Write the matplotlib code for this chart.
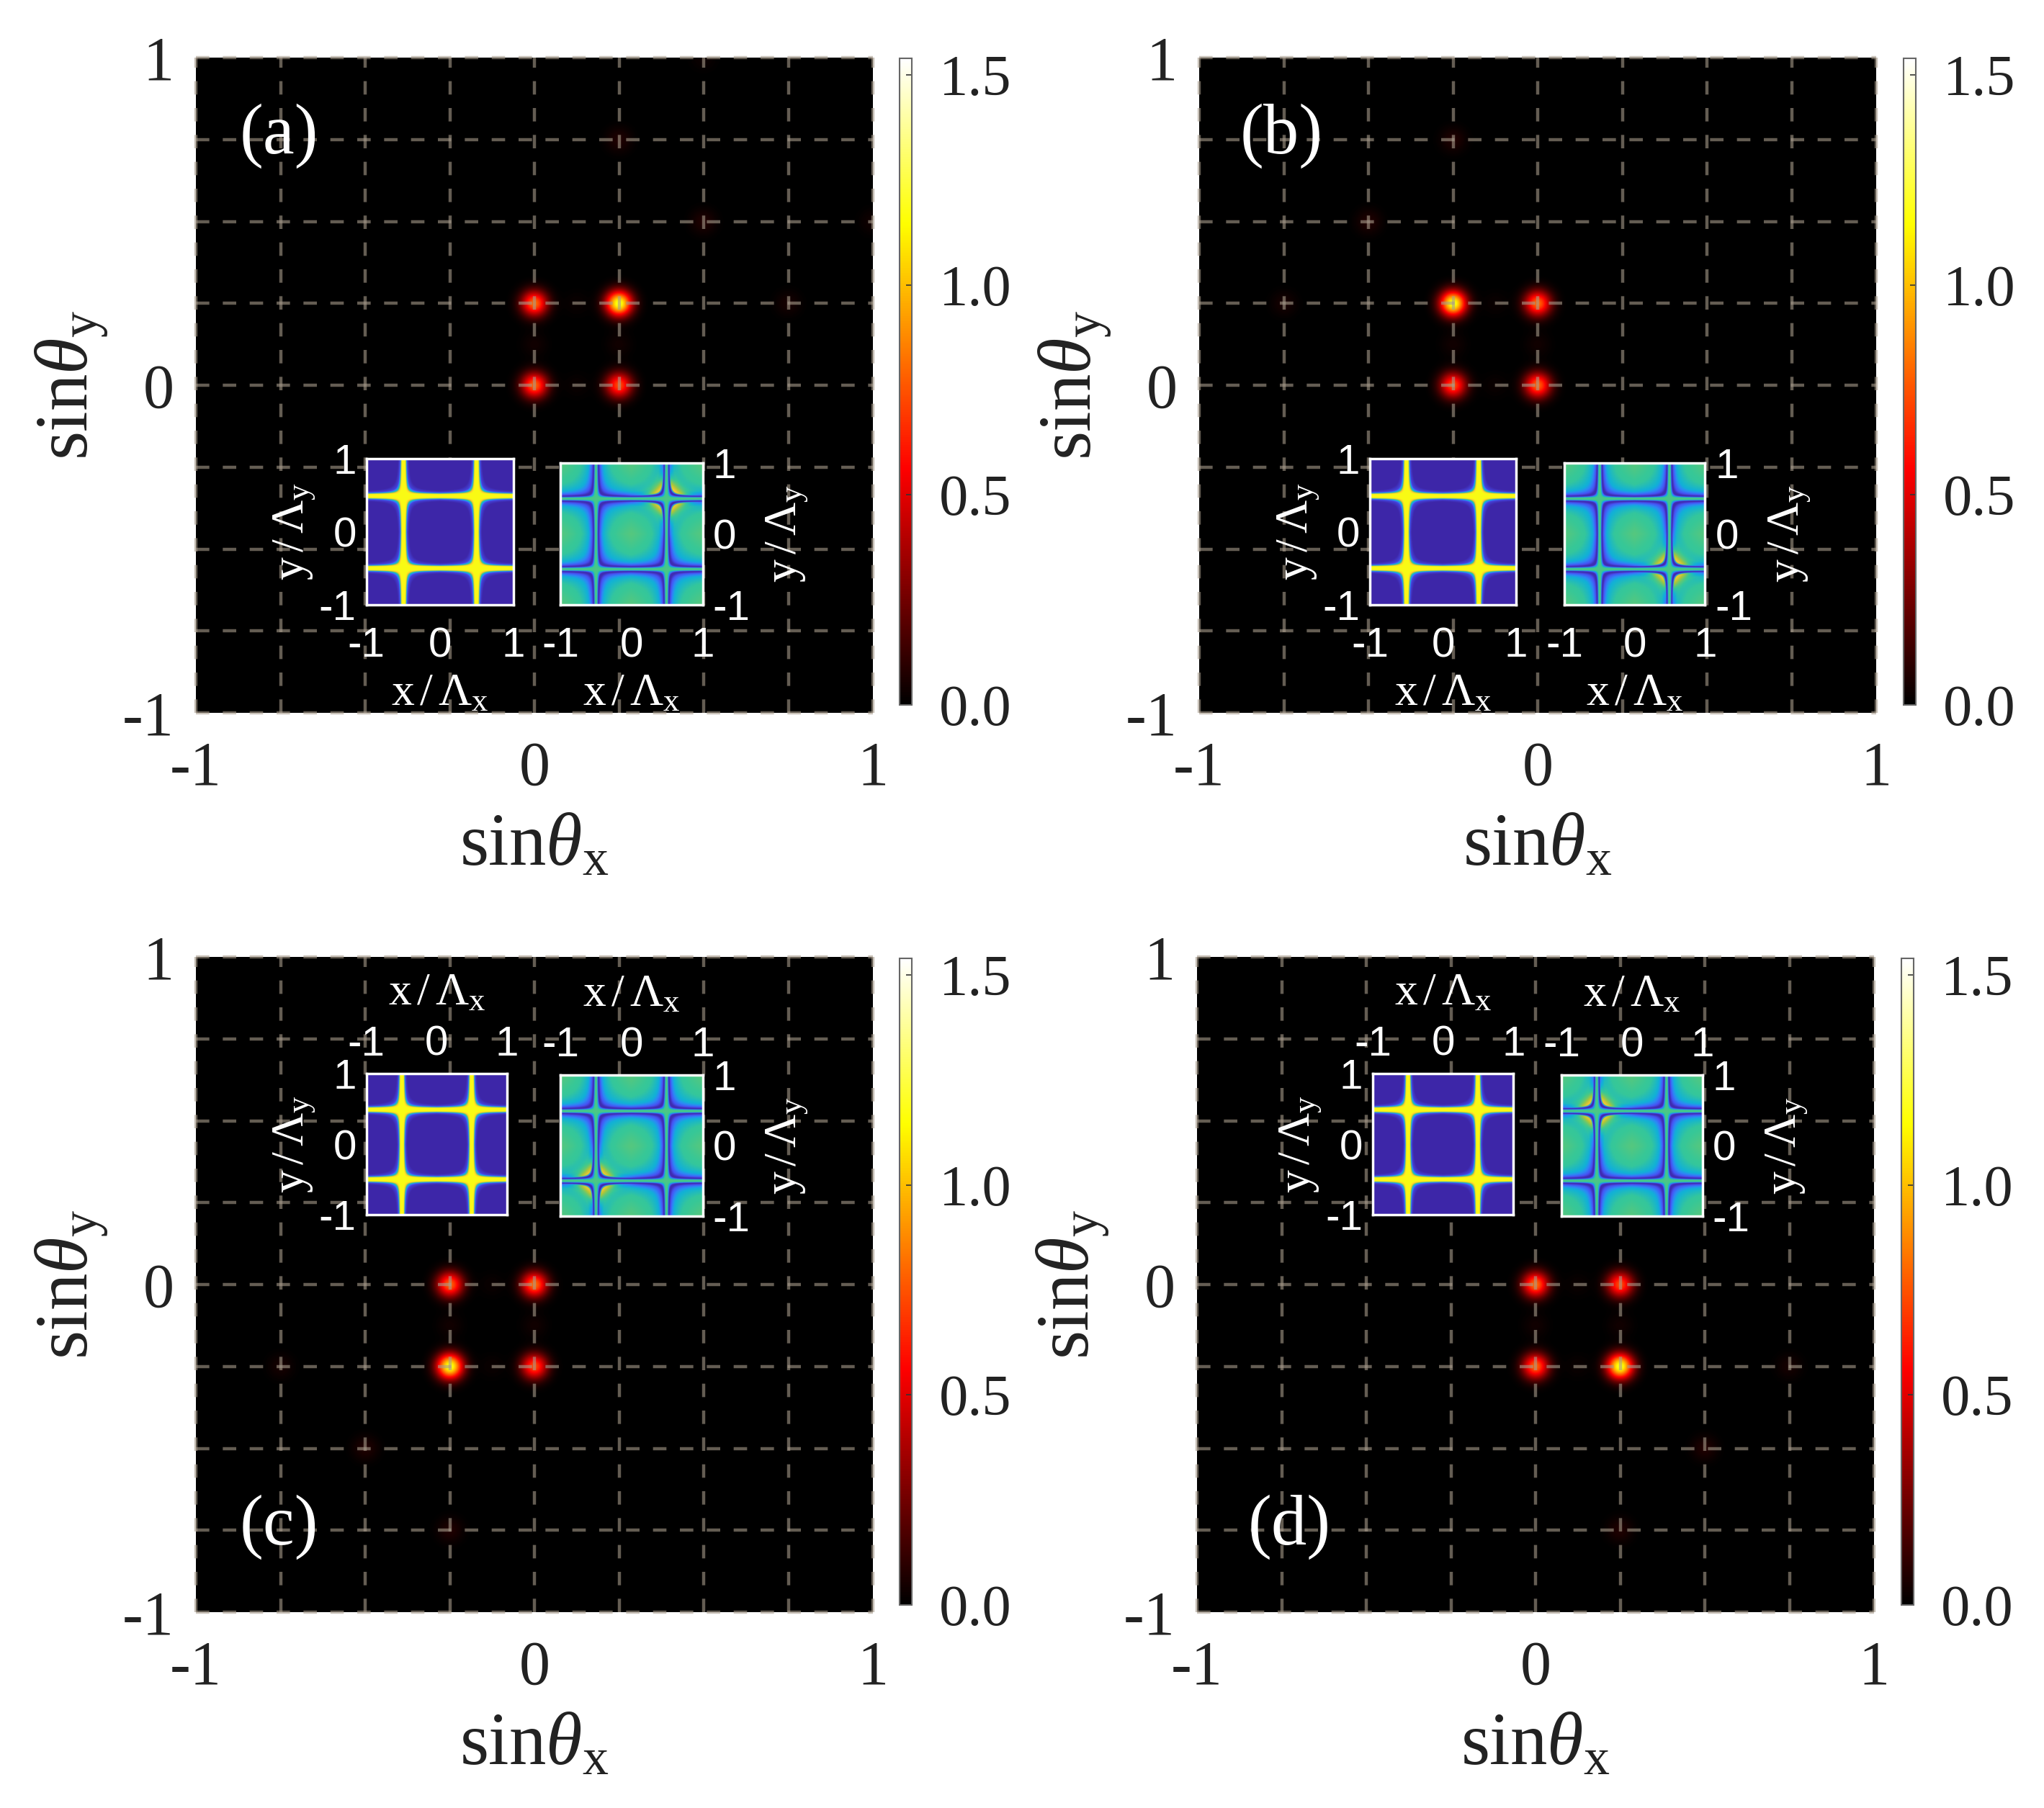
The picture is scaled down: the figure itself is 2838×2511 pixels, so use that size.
import numpy as np
import matplotlib
matplotlib.use('Agg')
import matplotlib.pyplot as plt
from matplotlib.colors import LinearSegmentedColormap

plt.rcParams['font.family'] = ['Liberation Serif', 'DejaVu Serif']
plt.rcParams['mathtext.fontset'] = 'custom'
plt.rcParams['mathtext.rm'] = 'Liberation Serif'
plt.rcParams['mathtext.it'] = 'Liberation Serif:italic'
plt.rcParams['mathtext.bf'] = 'Liberation Serif:bold'

W, H = 2838, 2511

# peak positions and heights
peaks_a_x = [0.25, 0.0, 0.0, 0.25, 0.25, 0.5, 0.75, 0.5, 1.0, 0.125, 0.125, 0.25, 0.0]
peaks_a_y = [0.25, 0.25, 0.0, 0.0, 0.75, 0.5, 0.25, 1.0, 0.5, 0.25, 0.0, 0.125, 0.125]
peaks_a_v = [1.2, 0.8, 0.78, 0.72, 0.07, 0.07, 0.05, 0.03, 0.04, 0.025, 0.025, 0.04, 0.04]
peaks_b_x = [-0.25, 0.0, 0.0, -0.25, -0.25, -0.5, -0.75, -0.125, -0.125, -0.25, 0.0]
peaks_b_y = [0.25, 0.25, 0.0, 0.0, 0.75, 0.5, 0.25, 0.25, 0.0, 0.125, 0.125]
peaks_b_v = [1.2, 0.8, 0.78, 0.72, 0.07, 0.07, 0.05, 0.025, 0.025, 0.04, 0.04]
peaks_c_x = [-0.25, 0.0, 0.0, -0.25, -0.25, -0.5, -0.75, -0.125, -0.125, -0.25, 0.0]
peaks_c_y = [-0.25, -0.25, 0.0, 0.0, -0.75, -0.5, -0.25, -0.25, 0.0, -0.125, -0.125]
peaks_c_v = [1.2, 0.72, 0.8, 0.78, 0.07, 0.07, 0.05, 0.025, 0.025, 0.04, 0.04]
peaks_d_x = [0.25, 0.0, 0.0, 0.25, 0.25, 0.5, 0.75, 0.125, 0.125, 0.25, 0.0]
peaks_d_y = [-0.25, -0.25, 0.0, 0.0, -0.75, -0.5, -0.25, -0.25, 0.0, -0.125, -0.125]
peaks_d_v = [1.2, 0.78, 0.8, 0.72, 0.07, 0.07, 0.05, 0.025, 0.025, 0.04, 0.04]

grid_lines = [-1, -0.75, -0.5, -0.25, 0, 0.25, 0.5, 0.75, 1]
main_ticks = [-1, 0, 1]
main_tick_labels = ['-1', '0', '1']
cbar_ticks = [0.0, 0.5, 1.0, 1.5]
cbar_tick_labels = ['0.0', '0.5', '1.0', '1.5']
cbar_max = 1.54

# inset line positions and the radial profiles of the two inset maps
inset_lines = [-0.5, 0.49]
amp_s = [0.0, 0.016, 0.021, 0.026, 0.033, 0.047, 0.25]
amp_v = [1.0, 1.0, 0.88, 0.5, 0.1, 0.0, 0.0]
phase_s = [0.0, 0.011, 0.017, 0.021, 0.027, 0.034, 0.058, 0.094, 0.157]
phase_v = [0.6, 0.58, 0.25, 0.02, 0.02, 0.12, 0.42, 0.56, 0.61]

hot_map = LinearSegmentedColormap.from_list('hot_black', [
    (0.0, (0, 0, 0)), (0.365, (1, 0, 0)), (0.746, (1, 1, 0)), (1.0, (1, 1, 1))])
parula = LinearSegmentedColormap.from_list('parula', [
    (0.2422, 0.1504, 0.6603), (0.2810, 0.3228, 0.9579), (0.1786, 0.5289, 0.9682),
    (0.0689, 0.6948, 0.8394), (0.2161, 0.7843, 0.5923), (0.6720, 0.7793, 0.2227),
    (0.9970, 0.7659, 0.2199), (0.9769, 0.9839, 0.0805)])


def rect(x0, y0, x1, y1):
    return [x0 / W, 1 - y1 / H, (x1 - x0) / W, (y1 - y0) / H]


def far_field(px, py, pv):
    g = np.linspace(-1, 1, 941)
    xx, yy = np.meshgrid(g, g)
    z = np.zeros_like(xx)
    for a, b, v in zip(px, py, pv):
        z += v * np.exp(-((xx - a)**2 + (yy - b)**2) / (2 * 0.027**2))
    return z


def soft_dist(n=600, p=0.6):
    g = np.linspace(-1, 1, n)
    xx, yy = np.meshgrid(g, g)
    dx = np.min([np.abs(xx - a) for a in inset_lines], axis=0) + 1e-4
    dy = np.min([np.abs(yy - a) for a in inset_lines], axis=0) + 1e-4
    return xx, yy, (dx**-p + dy**-p)**(-1 / p)


def inset_amp():
    _, _, s = soft_dist()
    return np.interp(s, amp_s, amp_v)


def inset_phase(sx, sy):
    xx, yy, s = soft_dist()
    z = np.interp(s, phase_s, phase_v)
    r2 = (xx - sx * 0.5)**2 + (yy - sy * 0.5)**2
    w = np.minimum(1, 1.2 * np.exp(-r2 / 0.11))
    w = w * np.clip((s - 0.027) / 0.006, 0, 1) * np.exp(-(np.clip(s - 0.03, 0, None) / 0.04)**2)
    return z + w * (0.86 - z)


def inset(box, data, side, xside):
    ax = fig.add_axes(rect(*[v * W / 1568 for v in box]))
    ax.imshow(data, origin='lower', extent=(-1, 1, -1, 1), cmap=parula, vmin=0, vmax=1,
              aspect='auto', interpolation='bilinear')
    ax.set_xticks(main_ticks, main_tick_labels, family='Liberation Sans')
    ax.set_yticks(main_ticks, main_tick_labels, family='Liberation Sans')
    ax.tick_params(length=0, labelsize=42, colors='white', pad=10)
    ax.xaxis.set_label_position(xside)
    ax.yaxis.set_label_position(side)
    if xside == 'top':
        ax.xaxis.tick_top()
        ax.set_xlabel(r'x$\,/\,\Lambda_{\mathrm{x}}$', fontsize=46, color='white', labelpad=20)
    else:
        ax.tick_params(axis='x', pad=22)
        ax.set_xlabel(r'x$\,/\,\Lambda_{\mathrm{x}}$', fontsize=46, color='white', labelpad=8)
    if side == 'right':
        ax.yaxis.tick_right()
        ax.set_ylabel(r'y$\,/\,\Lambda_{\mathrm{y}}$', fontsize=46, color='white', labelpad=14)
    else:
        ax.set_ylabel(r'y$\,/\,\Lambda_{\mathrm{y}}$', fontsize=46, color='white', labelpad=2)
    for sp in ax.spines.values():
        sp.set_color('white')
        sp.set_linewidth(2.5)


def panel(box, cbox, px, py, pv, tag, tag_x, tag_y):
    ax = fig.add_axes(rect(*box))
    im = ax.imshow(far_field(px, py, pv), origin='lower', extent=(-1, 1, -1, 1), cmap=hot_map,
                   vmin=0, vmax=cbar_max, aspect='auto', interpolation='bilinear')
    for g in grid_lines:
        ax.plot([-1, 1], [g, g], color='#a89c8c', alpha=0.6, lw=3.2, dashes=(4.2, 4.2), clip_on=False)
        ax.plot([g, g], [-1, 1], color='#a89c8c', alpha=0.6, lw=3.2, dashes=(4.2, 4.2), clip_on=False)
    ax.set_xlim(-1, 1)
    ax.set_ylim(-1, 1)
    ax.set_xticks(main_ticks, main_tick_labels)
    ax.set_yticks(main_ticks, main_tick_labels)
    ax.tick_params(length=0, labelsize=62, colors='#222222', pad=22)
    ax.tick_params(axis='x', pad=28)
    ax.set_xlabel(r'sin$\theta_{\mathrm{x}}$', fontsize=74, color='#222222', labelpad=15)
    ax.set_ylabel(r'sin$\theta_{\mathrm{y}}$', fontsize=74, color='#222222', labelpad=12)
    for sp in ax.spines.values():
        sp.set_visible(False)
    ax.text(tag_x, tag_y, tag, transform=ax.transAxes, color='white', fontsize=71, va='center')

    cax = fig.add_axes(rect(*cbox))
    cb = fig.colorbar(im, cax=cax)
    cb.set_ticks(cbar_ticks, labels=cbar_tick_labels)
    cax.tick_params(direction='in', length=6, width=1.2, labelsize=58, pad=27,
                    color='#333333', labelcolor='#222222')
    cb.outline.set_edgecolor('#666666')
    cb.outline.set_linewidth(1.5)


fig = plt.figure(figsize=(W / 100, H / 100), dpi=100)

panel((272, 80, 1212, 990), (1249, 81, 1266, 979), peaks_a_x, peaks_a_y, peaks_a_v, '(a)', 0.065, 0.88)
panel((1665, 80, 2605, 990), (2643, 81, 2660, 979), peaks_b_x, peaks_b_y, peaks_b_v, '(b)', 0.06, 0.88)
panel((272, 1329, 1212, 2239), (1249, 1331, 1266, 2229), peaks_c_x, peaks_c_y, peaks_c_v, '(c)', 0.065, 0.13)
panel((1662, 1329, 2602, 2239), (2640, 1331, 2657, 2229), peaks_d_x, peaks_d_y, peaks_d_v, '(d)', 0.075, 0.13)

amp = inset_amp()
inset((281, 352, 394, 464), amp, 'left', 'bottom')
inset((430, 355, 539, 464), inset_phase(1, 1), 'right', 'bottom')
inset((1051, 352, 1163, 464), amp, 'left', 'bottom')
inset((1200, 355, 1308, 464), inset_phase(1, -1), 'right', 'bottom')
inset((281, 824, 389, 932), amp, 'left', 'top')
inset((430, 825, 539, 933), inset_phase(-1, -1), 'right', 'top')
inset((1053, 824, 1161, 932), amp, 'left', 'top')
inset((1198, 825, 1306, 933), inset_phase(-1, 1), 'right', 'top')

fig.savefig('out.png', dpi=100)
